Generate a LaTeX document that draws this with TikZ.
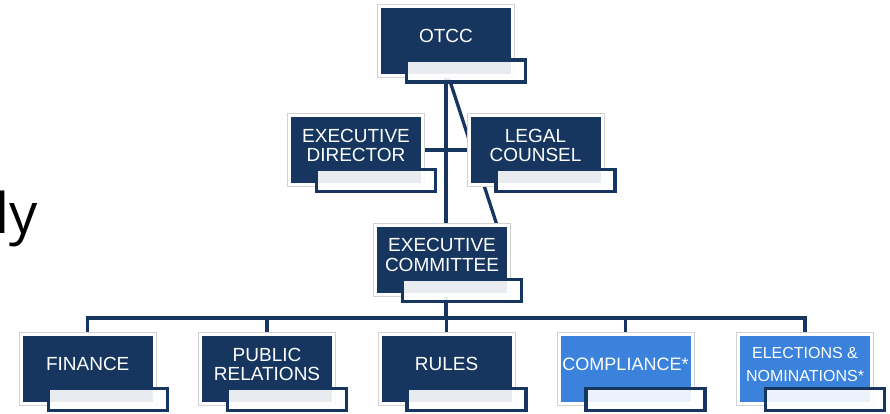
\documentclass[tikz,border=0pt]{standalone}
\usepackage{fontspec}
\setmainfont{Liberation Sans}
\newfontfamily\lyfont{Open Sans}
\usetikzlibrary{backgrounds}
\definecolor{darkblue}{RGB}{22,54,96}
\definecolor{lightblue}{RGB}{59,130,221}
\definecolor{rimgray}{RGB}{210,210,210}
\newcommand\orgbox[6]{%
  \node[mainbox=#4] (#1) at (#2,#3) {};
  \node[tagbox] (#1-tag) at ([xshift=20pt,yshift=-30.5pt]#1.center) {};
  \node[boxtext,font=#5] (#1-text) at ([yshift=4.75pt]#1.center) {#6};
}
\begin{document}
\begin{tikzpicture}[x=1pt,y=-1pt,
  mainbox/.style={rectangle, minimum width=133pt, minimum height=69pt,
    inner sep=0pt, outer sep=0pt, fill=#1, draw=white, line width=3pt,
    preaction={draw=rimgray, line width=5pt}},
  mainbox/.default=darkblue,
  tagbox/.style={rectangle, minimum width=119pt, minimum height=22pt,
    inner sep=0pt, outer sep=0pt, draw=darkblue, line width=3.3pt,
    fill=white, fill opacity=0.9, draw opacity=1},
  boxtext/.style={text=white, align=center, inner sep=0pt},
  conn/.style={draw=darkblue, line width=3.3pt},
]
\useasboundingbox (0,0) rectangle (890,413);
\clip (0,0) rectangle (890,413);

\node[anchor=base west, inner sep=0pt, font=\lyfont\fontsize{56}{60}\selectfont] (ly) at (-4.5,233) {ly};

\orgbox{otcc}{446}{40.5}{darkblue}{\fontsize{19}{19.5}\selectfont}{OTCC}
\orgbox{ed}{356}{150}{darkblue}{\fontsize{19}{19.5}\selectfont}{EXECUTIVE\\DIRECTOR}
\orgbox{lc}{535.5}{150}{darkblue}{\fontsize{19}{19.5}\selectfont}{LEGAL\\COUNSEL}
\orgbox{ec}{442}{259.7}{darkblue}{\fontsize{19}{19.5}\selectfont}{EXECUTIVE\\COMMITTEE}
\orgbox{fin}{87.7}{369}{darkblue}{\fontsize{19}{19.5}\selectfont}{FINANCE}
\orgbox{pr}{267}{369}{darkblue}{\fontsize{19}{19.5}\selectfont}{PUBLIC\\RELATIONS}
\orgbox{rules}{446.5}{369}{darkblue}{\fontsize{19}{19.5}\selectfont}{RULES}
\orgbox{comp}{625.5}{369}{lightblue}{\fontsize{18}{19.5}\selectfont}{COMPLIANCE*}
\orgbox{elec}{805}{369}{lightblue}{\fontsize{16}{23.5}\selectfont}{ELECTIONS \&\\NOMINATIONS*}

\coordinate (bus) at (446,318);
\begin{pgfonlayer}{background}
  \draw[conn] (otcc.center) -- (otcc.center |- bus);
  \draw[conn] (fin.north) |- (bus) -| (elec.north);
  \draw[conn] (pr.north) -- (pr.north |- bus);
  \draw[conn] (rules.north) -- (rules.north |- bus);
  \draw[conn] (comp.north) -- (comp.north |- bus);
  \draw[conn] (ed.east) -- (lc.west);
  \draw[conn] ([xshift=2pt]otcc.south) -- ([xshift=55pt]ec.north);
\end{pgfonlayer}
\end{tikzpicture}
\end{document}
